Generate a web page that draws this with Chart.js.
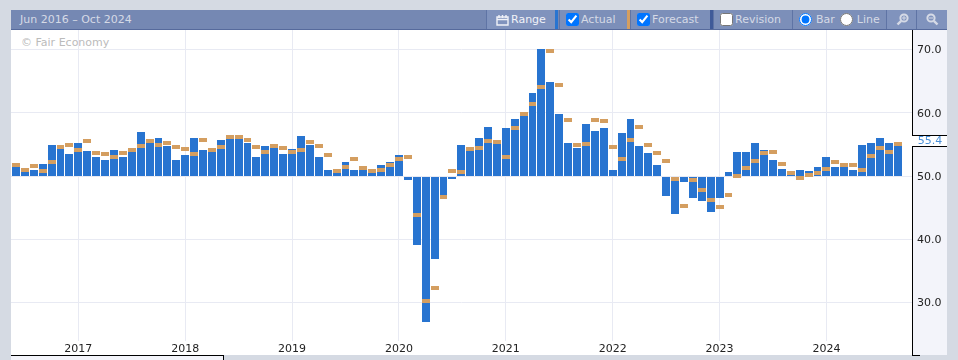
<!DOCTYPE html>
<html>
<head>
<meta charset="utf-8">
<script src="https://cdn.jsdelivr.net/npm/chart.js@4"></script>
<style>
  html, body { margin: 0; padding: 0; }
  body { width: 958px; height: 360px; background: #d5dae3; overflow: hidden; position: relative;
         font: 11px "DejaVu Sans", sans-serif; }
  .abs { position: absolute; }
  #plotBg { left: 11px; top: 30px; width: 901px; height: 325px; background: #fff; }
  #axisBg { left: 912px; top: 30px; width: 34px; height: 325px; background: #f3f4fa; border-left: 1px solid #000; }
  #axisFoot { left: 912px; top: 355px; width: 8px; height: 1px; background: #000; }
  #slider { left: 11px; top: 355px; width: 213px; height: 5px; background: #f3f4fa;
            border-top: 1px solid #000; border-right: 1px solid #000; box-sizing: border-box; }
  #mark { left: 21px; top: 36px; color: #bbb; }
  #chartWrap { left: 11px; top: 30px; }
  #toolbar { left: 11px; top: 10px; width: 936px; height: 19px; background: #7588b3;
             border-bottom: 1px solid #566a9c; color: #d5dae6; line-height: 19px; }
  #range { left: 9px; white-space: nowrap; }
  .seg { position: absolute; top: 0; height: 19px; box-sizing: border-box; border-left: 1px solid #5f74a5;
         background: #7c8fb9; white-space: nowrap; display: flex; align-items: center; }
  .swatch { position: absolute; top: 0; height: 19px; width: 3px; }
  .seg input { margin: 0 2px 0 0; width: 13px; height: 13px; }
  .seg svg { display: block; }
</style>
</head>
<body>
<div class="abs" id="plotBg"></div>
<div class="abs" id="axisBg"></div>
<div class="abs" id="axisFoot"></div>
<div class="abs" id="slider"></div>
<div class="abs" id="mark">© Fair Economy</div>
<div class="abs" id="chartWrap"><canvas id="pmiChart" width="936" height="325"></canvas></div>
<div class="abs" id="toolbar">
  <span class="abs" id="range">Jun 2016 – Oct 2024</span>
  <div class="seg" style="left:475px;width:69px;padding-left:9px;color:#f0f2f8;background:#8093bd">
    <svg width="13" height="12" viewBox="0 0 13 12" style="margin-right:2px"><path d="M1 3h11v8H1z M1 5.5h11 M3 1v3 M10 1v3 M6.5 1v3" fill="none" stroke="#f0f2f8" stroke-width="1.4"/></svg>Range
  </div>
  <div class="swatch" style="left:544px;background:#2874d0"></div>
  <div class="seg" style="left:548px;width:68px;padding-left:6px"><input type="checkbox" checked>Actual</div>
  <div class="swatch" style="left:616px;background:#d49e60"></div>
  <div class="seg" style="left:619px;width:80px;padding-left:6px"><input type="checkbox" checked>Forecast</div>
  <div class="swatch" style="left:699px;background:#3f5a99"></div>
  <div class="seg" style="left:702px;width:79px;padding-left:6px"><input type="checkbox">Revision</div>
  <div class="seg" style="left:781px;width:94px;padding-left:6px"><input type="radio" name="kind" checked><span style="margin:0 5px 0 2px">Bar</span><input type="radio" name="kind"><span style="margin-left:2px">Line</span></div>
  <div class="seg" style="left:875px;width:30px;padding-left:9px;background:#8093bd">
    <svg width="13" height="13" viewBox="0 0 13 13"><circle cx="8" cy="5" r="3.6" fill="none" stroke="#d5dae6" stroke-width="2"/><path d="M5.2 7.8L1.5 11.5" stroke="#d5dae6" stroke-width="2.4"/><path d="M6 5h4M8 3v4" stroke="#d5dae6"/></svg>
  </div>
  <div class="seg" style="left:905px;width:31px;padding-left:9px;background:#8093bd">
    <svg width="13" height="13" viewBox="0 0 13 13"><circle cx="5" cy="5" r="3.6" fill="none" stroke="#d5dae6" stroke-width="2"/><path d="M7.8 7.8L11.5 11.5" stroke="#d5dae6" stroke-width="2.4"/><path d="M3 5h4" stroke="#d5dae6"/></svg>
  </div>
</div>
<script>
const months = [
  'Jun 2016', 'Jul 2016', 'Aug 2016', 'Sep 2016', 'Oct 2016', 'Nov 2016', 'Dec 2016',
  'Jan 2017', 'Feb 2017', 'Mar 2017', 'Apr 2017', 'May 2017', 'Jun 2017', 'Jul 2017', 'Aug 2017', 'Sep 2017', 'Oct 2017', 'Nov 2017', 'Dec 2017',
  'Jan 2018', 'Feb 2018', 'Mar 2018', 'Apr 2018', 'May 2018', 'Jun 2018', 'Jul 2018', 'Aug 2018', 'Sep 2018', 'Oct 2018', 'Nov 2018', 'Dec 2018',
  'Jan 2019', 'Feb 2019', 'Mar 2019', 'Apr 2019', 'May 2019', 'Jun 2019', 'Jul 2019', 'Aug 2019', 'Sep 2019', 'Oct 2019', 'Nov 2019', 'Dec 2019',
  'Jan 2020', 'Feb 2020', 'Mar 2020', 'Apr 2020', 'May 2020', 'Jun 2020', 'Jul 2020', 'Aug 2020', 'Sep 2020', 'Oct 2020', 'Nov 2020', 'Dec 2020',
  'Jan 2021', 'Feb 2021', 'Mar 2021', 'Apr 2021', 'May 2021', 'Jun 2021', 'Jul 2021', 'Aug 2021', 'Sep 2021', 'Oct 2021', 'Nov 2021', 'Dec 2021',
  'Jan 2022', 'Feb 2022', 'Mar 2022', 'Apr 2022', 'May 2022', 'Jun 2022', 'Jul 2022', 'Aug 2022', 'Sep 2022', 'Oct 2022', 'Nov 2022', 'Dec 2022',
  'Jan 2023', 'Feb 2023', 'Mar 2023', 'Apr 2023', 'May 2023', 'Jun 2023', 'Jul 2023', 'Aug 2023', 'Sep 2023', 'Oct 2023', 'Nov 2023', 'Dec 2023',
  'Jan 2024', 'Feb 2024', 'Mar 2024', 'Apr 2024', 'May 2024', 'Jun 2024', 'Jul 2024', 'Aug 2024', 'Sep 2024'
];

const actual = [
  51.4, 50.6, 50.9, 51.9, 54.9, 54.3, 53.5,
  55.2, 53.9, 53.0, 52.5, 54.1, 53.0, 53.8, 56.9, 55.2, 56.0, 54.7, 52.5,
  53.3, 56.0, 54.1, 53.8, 55.7, 55.8, 55.8, 55.2, 53.0, 54.7, 54.4, 53.5,
  54.3, 56.3, 54.9, 53.0, 50.9, 50.5, 52.2, 50.9, 50.9, 50.5, 51.7, 52.2,
  53.3, 49.4, 39.1, 26.9, 36.9, 47.0, 49.5, 54.9, 53.9, 56.0, 57.7, 55.1,
  57.6, 59.0, 59.5, 63.1, 70.1, 64.8, 59.8, 55.2, 54.4, 58.2, 57.1, 57.6,
  50.9, 56.8, 59.0, 54.7, 53.6, 51.7, 46.8, 44.0, 49.1, 46.5, 46.1, 44.3,
  46.5, 50.6, 53.8, 53.8, 55.2, 54.1, 52.5, 51.1, 50.2, 50.9, 50.8, 51.4,
  53.0, 51.4, 51.4, 50.9, 54.9, 55.2, 56.0, 55.2, 55.4
];

const forecast = [
  51.7, 50.9, 51.6, 50.8, 52.2, 54.6, 54.9,
  54.1, 55.5, 53.6, 53.5, 53.0, 53.6, 54.1, 54.7, 55.5, 54.9, 55.2, 54.6,
  54.3, 53.5, 55.7, 54.1, 54.6, 56.2, 56.2, 55.7, 54.6, 53.8, 54.7, 54.4,
  53.8, 54.1, 55.4, 54.7, 53.3, 50.8, 51.4, 52.7, 51.3, 50.8, 50.9, 51.7,
  52.7, 53.0, 43.8, 30.2, 32.3, 46.7, 50.8, 50.6, 54.3, 54.4, 55.5, 55.4,
  53.0, 57.6, 59.8, 61.4, 64.1, 69.7, 64.4, 58.8, 54.9, 55.1, 58.8, 58.7,
  54.6, 52.7, 55.7, 57.7, 54.9, 53.6, 52.4, 49.5, 45.3, 49.4, 47.8, 46.2,
  45.1, 47.0, 50.0, 51.3, 52.4, 53.6, 53.8, 51.9, 50.5, 49.7, 50.2, 50.5,
  51.1, 52.2, 51.7, 51.7, 50.9, 53.2, 54.4, 53.8, 55.1
];

const yearIndexes = [7, 19, 31, 43, 55, 67, 79, 91];
const yearLabels = ['2017', '2018', '2019', '2020', '2021', '2022', '2023', '2024'];
const yTicks = [30, 40, 50, 60, 70];
const latestValue = 55.4;

const AXIS_FONT = { family: '"DejaVu Sans"', size: 11 };
const MARK_HALF = 0.316;

// current value flag on the right axis, breaks the axis line like the original
const latestFlag = {
  id: 'latestFlag',
  afterDraw(chart) {
    const { ctx, chartArea, scales } = chart;
    const y = Math.round(scales.y.getPixelForValue(latestValue));
    const left = chartArea.right;
    ctx.save();
    ctx.fillStyle = '#fff';
    ctx.fillRect(left, y - 7, 35, 11);
    ctx.fillStyle = '#000';
    ctx.fillRect(left, y - 7, 35, 1);
    ctx.fillRect(left, y + 4, 35, 1);
    ctx.fillStyle = '#4a90d9';
    ctx.font = '11px "DejaVu Sans"';
    ctx.textAlign = 'center';
    ctx.textBaseline = 'middle';
    ctx.fillText(latestValue.toFixed(1), left + 18, y - 1);
    ctx.restore();
  }
};

// keep the bar edges on whole pixels with a 1px gap, the original has no soft edges
const snapBars = {
  id: 'snapBars',
  beforeDatasetsDraw(chart) {
    chart.getSortedVisibleDatasetMetas().forEach(meta => {
      const lefts = meta.data.map(bar => Math.round(bar.x - bar.width / 2));
      meta.data.forEach((bar, i) => {
        const left = lefts[i];
        const right = i < lefts.length - 1 ? lefts[i + 1] - 1 : left + 8;
        bar.x = (left + right) / 2;
        bar.width = right - left;
        bar.y = Math.round(bar.y);
        bar.base = Math.round(bar.base);
      });
    });
  }
};

new Chart(document.getElementById('pmiChart'), {
  type: 'bar',
  data: {
    labels: months,
    datasets: [
      {
        label: 'Forecast',
        data: forecast.map((v, i) => ({ x: i, y: [v - MARK_HALF, v + MARK_HALF] })),
        backgroundColor: '#d49e60',
        barThickness: 8,
        inflateAmount: 0,
        grouped: false,
        order: 1
      },
      {
        label: 'Actual',
        data: actual.map((v, i) => ({ x: i, y: v })),
        base: 50,
        backgroundColor: '#2874d0',
        barThickness: 8,
        inflateAmount: 0,
        grouped: false,
        order: 2
      }
    ]
  },
  plugins: [snapBars, latestFlag],
  options: {
    responsive: false,
    animation: false,
    layout: { padding: 0 },
    plugins: {
      legend: { display: false },
      tooltip: { enabled: false }
    },
    scales: {
      x: {
        type: 'linear',
        offset: false,
        min: -0.561,
        max: 100.6,
        afterBuildTicks(scale) {
          scale.ticks = yearIndexes.map(value => ({ value }));
        },
        afterFit(scale) {
          scale.height = 14;
          scale.paddingLeft = 0;
          scale.paddingRight = 0;
        },
        grid: { color: '#e8eaf3', drawTicks: false, offset: false },
        border: { display: false },
        ticks: {
          autoSkip: false,
          maxRotation: 0,
          padding: 2,
          color: '#222',
          font: AXIS_FONT,
          callback: value => yearLabels[yearIndexes.indexOf(value)]
        }
      },
      y: {
        position: 'right',
        min: 23.9,
        max: 73.1,
        afterBuildTicks(scale) {
          scale.ticks = yTicks.map(value => ({ value }));
        },
        afterFit(scale) {
          scale.width = 35;
          scale.paddingTop = 0;
          scale.paddingBottom = 0;
        },
        grid: { color: '#e8eaf3', drawTicks: false },
        border: { display: false },
        ticks: {
          crossAlign: 'center',
          padding: 5,
          labelOffset: 1,
          color: '#222',
          font: AXIS_FONT,
          callback: value => value.toFixed(1)
        }
      }
    }
  }
});
</script>
</body>
</html>
